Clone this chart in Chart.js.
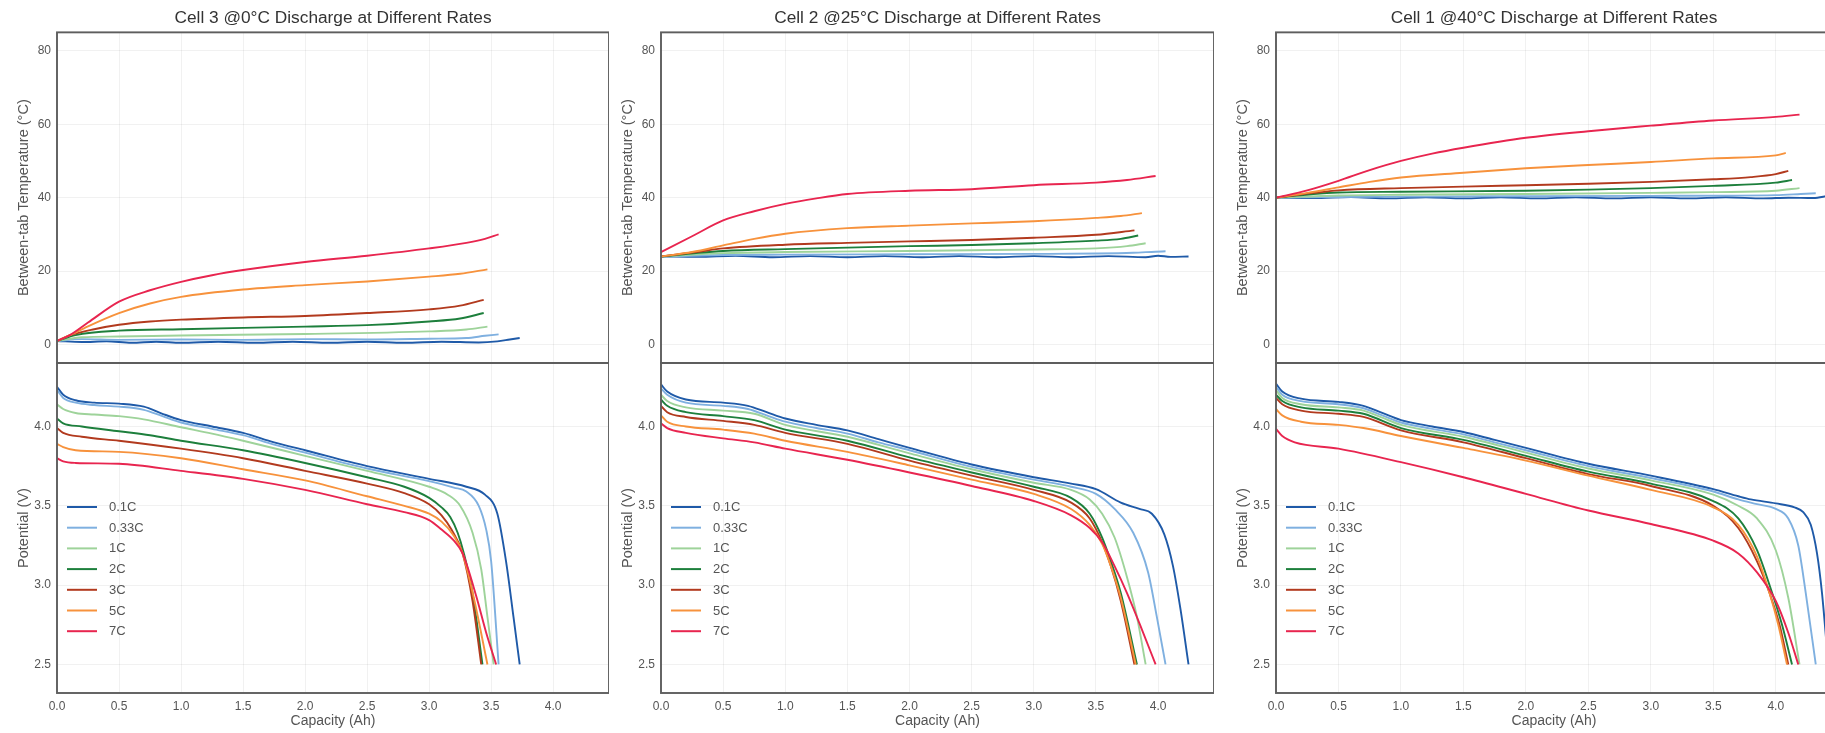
<!DOCTYPE html>
<html><head><meta charset="utf-8">
<script src="https://cdn.jsdelivr.net/npm/chart.js@4.4.1/dist/chart.umd.min.js"></script>
<style>
html,body{margin:0;padding:0;background:#fff;width:1825px;height:733px;overflow:hidden;position:relative}
canvas{position:absolute;display:block}
</style></head><body>
<script>
// ---------- labels / ticks ----------
const rates = ['0.1C','0.33C','1C','2C','3C','5C','7C'];
const colors = ['#1f5aa8','#7fb0e0','#9ed39a','#1d7f3c','#b23a1e','#f7923c','#e8254f'];
const titles = ['Cell 3 @0°C Discharge at Different Rates','Cell 2 @25°C Discharge at Different Rates','Cell 1 @40°C Discharge at Different Rates'];
const tempTicks = [0,20,40,60,80];
const voltTicks = [2.5,3.0,3.5,4.0];
const capTicks = [0,0.5,1.0,1.5,2.0,2.5,3.0,3.5,4.0];

// ---------- Cell 3 @0°C : temperature [capacity Ah, °C] ----------
const c3T_01 = [[0,1],[0.2,0.7],[0.4,0.9],[0.6,0.5],[0.8,0.8],[1.0,0.5],[1.3,0.8],[1.6,0.5],[1.9,0.8],[2.2,0.5],[2.5,0.8],[2.8,0.5],[3.1,0.8],[3.4,0.6],[3.55,0.9],[3.65,1.4],[3.73,1.8]];
const c3T_033 = [[0,1],[0.2,1.5],[0.5,1.3],[1.0,1.4],[1.5,1.3],[2.0,1.5],[2.5,1.4],[3.0,1.6],[3.3,1.8],[3.45,2.4],[3.56,2.8]];
const c3T_1 = [[0,1],[0.2,2],[0.5,2.2],[1.0,2.5],[2.0,2.9],[3.0,3.6],[3.3,4.1],[3.47,4.9]];
const c3T_2 = [[0,1],[0.15,2.6],[0.5,3.8],[1.0,4.2],[2.0,4.9],[2.5,5.3],[3.0,6.3],[3.25,7.1],[3.44,8.6]];
const c3T_3 = [[0,1],[0.1,2.5],[0.3,4.2],[0.5,5.4],[0.75,6.3],[1.0,6.8],[1.5,7.4],[2.0,7.8],[2.5,8.6],[3.0,9.6],[3.25,10.6],[3.44,12.2]];
const c3T_5 = [[0,1],[0.1,2.5],[0.25,5],[0.5,8.6],[0.75,11.2],[1.0,13],[1.5,15],[2.0,16.2],[2.5,17.2],[3.0,18.5],[3.25,19.3],[3.47,20.5]];
const c3T_7 = [[0,1],[0.1,2.5],[0.25,6],[0.5,11.7],[0.75,14.8],[1.0,17.1],[1.25,18.9],[1.5,20.3],[2.0,22.5],[2.5,24.2],[3.0,26.2],[3.3,27.7],[3.45,28.8],[3.56,30]];
// ---------- Cell 3 @0°C : potential [capacity Ah, V] ----------
const c3V_01 = [[0,4.25],[0.05,4.2],[0.15,4.165],[0.3,4.15],[0.5,4.144],[0.7,4.125],[0.85,4.08],[1.0,4.04],[1.25,4.0],[1.5,3.96],[1.75,3.9],[2.0,3.85],[2.5,3.75],[3.0,3.67],[3.3,3.62],[3.45,3.57],[3.55,3.45],[3.62,3.15],[3.68,2.8],[3.73,2.5]];
const c3V_033 = [[0,4.23],[0.05,4.18],[0.15,4.15],[0.3,4.135],[0.5,4.125],[0.7,4.105],[0.85,4.065],[1.0,4.025],[1.25,3.985],[1.5,3.945],[1.75,3.885],[2.0,3.835],[2.5,3.735],[3.0,3.655],[3.2,3.615],[3.3,3.59],[3.4,3.5],[3.46,3.35],[3.5,3.15],[3.56,2.5]];
const c3V_1 = [[0,4.14],[0.05,4.11],[0.15,4.085],[0.3,4.075],[0.5,4.065],[0.7,4.045],[1.0,3.995],[1.25,3.955],[1.5,3.91],[2.0,3.815],[2.5,3.72],[3.0,3.62],[3.15,3.57],[3.25,3.5],[3.35,3.33],[3.42,3.1],[3.47,2.8],[3.52,2.5]];
const c3V_2 = [[0,4.05],[0.05,4.02],[0.2,4.0],[0.5,3.97],[0.75,3.945],[1.0,3.91],[1.5,3.85],[2.0,3.77],[2.5,3.68],[2.8,3.62],[3.0,3.55],[3.1,3.49],[3.17,3.43],[3.23,3.33],[3.28,3.2],[3.35,2.95],[3.43,2.5]];
const c3V_3 = [[0,3.99],[0.05,3.96],[0.2,3.935],[0.5,3.91],[1.0,3.86],[1.5,3.8],[2.0,3.72],[2.5,3.64],[2.8,3.58],[3.0,3.51],[3.1,3.44],[3.18,3.35],[3.27,3.2],[3.35,2.9],[3.42,2.5]];
const c3V_5 = [[0,3.89],[0.05,3.87],[0.15,3.85],[0.5,3.84],[1.0,3.8],[1.5,3.73],[2.0,3.66],[2.5,3.56],[2.8,3.5],[3.0,3.45],[3.1,3.4],[3.2,3.31],[3.27,3.2],[3.36,2.92],[3.47,2.5]];
const c3V_7 = [[0,3.8],[0.05,3.78],[0.15,3.77],[0.5,3.765],[1.0,3.72],[1.5,3.67],[2.0,3.6],[2.5,3.51],[2.8,3.46],[3.0,3.41],[3.1,3.35],[3.2,3.28],[3.27,3.2],[3.38,2.93],[3.46,2.7],[3.54,2.5]];

// ---------- Cell 2 @25°C : temperature ----------
const c2T_01 = [[0,24],[0.3,23.9],[0.6,24.2],[0.9,23.8],[1.2,24.1],[1.5,23.8],[1.8,24.1],[2.1,23.8],[2.4,24.1],[2.7,23.8],[3.0,24.1],[3.3,23.8],[3.6,24.1],[3.9,23.8],[4.0,24.2],[4.1,23.9],[4.245,24]];
const c2T_033 = [[0,24],[0.5,24.4],[1.0,24.5],[2.0,24.6],[3.0,24.7],[3.5,24.8],[3.8,25.0],[3.98,25.3],[4.06,25.4]];
const c2T_1 = [[0,24],[0.3,24.6],[0.5,24.9],[1.0,25.2],[2.0,25.5],[3.0,25.9],[3.5,26.2],[3.75,26.8],[3.9,27.6]];
const c2T_2 = [[0,24],[0.3,25],[0.5,25.5],[1.0,26],[1.5,26.4],[2.0,26.8],[2.5,27.1],[3.0,27.6],[3.5,28.3],[3.7,28.8],[3.84,29.7]];
const c2T_3 = [[0,24],[0.3,25.3],[0.5,26.2],[1.0,27.2],[1.5,27.7],[2.0,28.1],[2.5,28.5],[3.0,29.1],[3.5,29.9],[3.81,31.1]];
const c2T_5 = [[0,24],[0.25,25.2],[0.5,27],[0.75,28.8],[1.0,30.2],[1.5,31.7],[2.0,32.4],[2.5,33],[3.0,33.6],[3.5,34.5],[3.7,35],[3.87,35.8]];
const c2T_7 = [[0,25.2],[0.25,29.5],[0.5,33.8],[0.75,36.3],[1.0,38.3],[1.25,39.8],[1.5,41],[2.0,41.9],[2.5,42.3],[3.0,43.4],[3.5,44.1],[3.75,44.8],[3.98,45.9]];
// ---------- Cell 2 @25°C : potential ----------
const c2V_01 = [[0,4.265],[0.05,4.22],[0.2,4.17],[0.5,4.15],[0.7,4.13],[0.85,4.09],[1.0,4.05],[1.25,4.01],[1.5,3.975],[1.75,3.92],[2.0,3.865],[2.5,3.76],[3.0,3.68],[3.3,3.64],[3.5,3.605],[3.7,3.52],[3.85,3.48],[3.95,3.45],[4.05,3.32],[4.12,3.12],[4.18,2.85],[4.245,2.5]];
const c2V_033 = [[0,4.24],[0.05,4.2],[0.2,4.15],[0.5,4.13],[0.7,4.11],[0.85,4.07],[1.0,4.03],[1.25,3.99],[1.5,3.955],[1.75,3.9],[2.0,3.85],[2.5,3.745],[3.0,3.665],[3.3,3.62],[3.5,3.575],[3.65,3.48],[3.8,3.33],[3.92,3.08],[3.99,2.8],[4.06,2.5]];
const c2V_1 = [[0,4.2],[0.05,4.16],[0.2,4.12],[0.5,4.1],[0.75,4.08],[1.0,4.01],[1.5,3.935],[2.0,3.83],[2.5,3.73],[3.0,3.645],[3.3,3.6],[3.45,3.54],[3.55,3.45],[3.65,3.3],[3.75,3.05],[3.83,2.8],[3.9,2.5]];
const c2V_2 = [[0,4.17],[0.05,4.13],[0.2,4.09],[0.5,4.065],[0.75,4.04],[1.0,3.98],[1.5,3.91],[2.0,3.805],[2.5,3.71],[3.0,3.62],[3.3,3.55],[3.45,3.45],[3.55,3.3],[3.62,3.15],[3.7,2.95],[3.83,2.5]];
const c2V_3 = [[0,4.13],[0.05,4.09],[0.2,4.06],[0.5,4.035],[0.75,4.01],[1.0,3.96],[1.5,3.89],[2.0,3.785],[2.5,3.69],[3.0,3.6],[3.3,3.52],[3.45,3.42],[3.55,3.27],[3.62,3.12],[3.7,2.9],[3.81,2.5]];
const c2V_5 = [[0,4.07],[0.05,4.03],[0.2,4.0],[0.5,3.98],[0.75,3.955],[1.0,3.91],[1.5,3.84],[2.0,3.755],[2.5,3.665],[3.0,3.575],[3.3,3.48],[3.45,3.38],[3.55,3.26],[3.62,3.12],[3.7,2.92],[3.82,2.5]];
const c2V_7 = [[0,4.02],[0.05,3.99],[0.2,3.96],[0.5,3.925],[0.75,3.9],[1.0,3.86],[1.5,3.79],[2.0,3.71],[2.5,3.625],[3.0,3.53],[3.3,3.44],[3.45,3.36],[3.55,3.27],[3.65,3.12],[3.75,2.95],[3.87,2.72],[3.98,2.5]];

// ---------- Cell 1 @40°C : temperature ----------
const c1T_01 = [[0,40],[0.3,39.9],[0.6,40.2],[0.9,39.8],[1.2,40.1],[1.5,39.8],[1.8,40.1],[2.1,39.8],[2.4,40.1],[2.7,39.8],[3.0,40.1],[3.3,39.8],[3.6,40.1],[3.9,39.8],[4.1,40.0],[4.3,39.9],[4.42,40.5]];
const c1T_033 = [[0,40],[0.5,40.2],[1.0,40.3],[2.0,40.4],[3.0,40.5],[4.0,40.7],[4.2,41.0],[4.32,41.2]];
const c1T_1 = [[0,40],[0.5,40.6],[1.0,40.8],[2.0,41.0],[3.0,41.3],[3.5,41.5],[4.0,41.9],[4.19,42.6]];
const c1T_2 = [[0,40],[0.3,41],[0.5,41.4],[1.0,41.6],[2.0,41.9],[2.5,42.2],[3.0,42.6],[3.5,43.2],[4.0,44.1],[4.13,44.8]];
const c1T_3 = [[0,40],[0.3,41.3],[0.5,42],[1.0,42.6],[1.5,43],[2.0,43.4],[2.5,43.8],[3.0,44.3],[3.5,45],[3.8,45.6],[4.0,46.4],[4.1,47.3]];
const c1T_5 = [[0,40],[0.25,41.3],[0.5,42.8],[0.75,44.3],[1.0,45.5],[1.5,46.8],[2.0,48],[2.5,48.9],[3.0,49.7],[3.5,50.7],[4.0,51.5],[4.08,52.2]];
const c1T_7 = [[0,40],[0.25,42],[0.5,44.6],[0.75,47.5],[1.0,50],[1.25,52],[1.5,53.6],[2.0,56.3],[2.5,58.1],[3.0,59.6],[3.5,61],[4.0,62],[4.19,62.6]];
// ---------- Cell 1 @40°C : potential ----------
const c1V_01 = [[0,4.27],[0.05,4.22],[0.2,4.175],[0.5,4.155],[0.7,4.13],[0.85,4.085],[1.0,4.04],[1.25,4.0],[1.5,3.965],[1.75,3.915],[2.0,3.865],[2.5,3.765],[3.0,3.69],[3.5,3.605],[3.7,3.56],[3.8,3.54],[4.0,3.515],[4.15,3.49],[4.22,3.46],[4.28,3.38],[4.33,3.2],[4.37,2.95],[4.42,2.5]];
const c1V_033 = [[0,4.25],[0.05,4.2],[0.2,4.16],[0.5,4.14],[0.7,4.115],[0.85,4.07],[1.0,4.025],[1.25,3.985],[1.5,3.95],[1.75,3.9],[2.0,3.85],[2.5,3.75],[3.0,3.675],[3.5,3.59],[3.7,3.54],[3.85,3.51],[4.0,3.48],[4.1,3.42],[4.18,3.25],[4.24,2.95],[4.32,2.5]];
const c1V_1 = [[0,4.23],[0.05,4.18],[0.2,4.14],[0.5,4.12],[0.7,4.1],[0.85,4.055],[1.0,4.01],[1.5,3.935],[2.0,3.835],[2.5,3.735],[3.0,3.66],[3.5,3.57],[3.7,3.5],[3.85,3.42],[4.0,3.22],[4.1,2.92],[4.19,2.5]];
const c1V_2 = [[0,4.2],[0.05,4.16],[0.2,4.12],[0.5,4.1],[0.7,4.08],[1.0,3.99],[1.5,3.915],[2.0,3.815],[2.5,3.715],[3.0,3.64],[3.5,3.53],[3.7,3.42],[3.85,3.22],[3.95,3.0],[4.05,2.75],[4.13,2.5]];
const c1V_3 = [[0,4.18],[0.05,4.14],[0.2,4.1],[0.5,4.08],[0.7,4.06],[1.0,3.975],[1.5,3.9],[2.0,3.8],[2.5,3.7],[3.0,3.625],[3.5,3.5],[3.7,3.36],[3.85,3.15],[3.95,2.95],[4.03,2.75],[4.1,2.5]];
const c1V_5 = [[0,4.11],[0.05,4.07],[0.2,4.03],[0.5,4.01],[0.7,3.99],[1.0,3.94],[1.5,3.865],[2.0,3.785],[2.5,3.69],[3.0,3.6],[3.5,3.49],[3.7,3.38],[3.85,3.18],[3.95,2.95],[4.02,2.75],[4.09,2.5]];
const c1V_7 = [[0,3.985],[0.05,3.94],[0.15,3.9],[0.5,3.86],[1.0,3.775],[1.5,3.68],[2.0,3.575],[2.5,3.47],[3.0,3.385],[3.5,3.28],[3.7,3.2],[3.85,3.08],[4.0,2.9],[4.1,2.7],[4.18,2.5]];

// ---------- assemble ----------
const cells = [
  {title: titles[0], T: [c3T_01,c3T_033,c3T_1,c3T_2,c3T_3,c3T_5,c3T_7], V: [c3V_01,c3V_033,c3V_1,c3V_2,c3V_3,c3V_5,c3V_7]},
  {title: titles[1], T: [c2T_01,c2T_033,c2T_1,c2T_2,c2T_3,c2T_5,c2T_7], V: [c2V_01,c2V_033,c2V_1,c2V_2,c2V_3,c2V_5,c2V_7]},
  {title: titles[2], T: [c1T_01,c1T_033,c1T_1,c1T_2,c1T_3,c1T_5,c1T_7], V: [c1V_01,c1V_033,c1V_1,c1V_2,c1V_3,c1V_5,c1V_7]}
];

const FONT = '"Liberation Sans", Arial, sans-serif';
const GRID = 'rgba(0,0,0,0.055)';
const TXT = '#555';
const plotLeft = [57, 661, 1276];
const plotW = [552, 553, 556];
const AXW = 57;

const framePlugin = {
  id: 'frame',
  afterDraw(chart) {
    const {ctx, chartArea: a} = chart;
    ctx.save();
    ctx.strokeStyle = '#5e5e5e';
    ctx.lineWidth = 1.9;
    ctx.strokeRect(a.left, a.top, a.right - a.left, a.bottom - a.top);
    ctx.restore();
  }
};
const legendPlugin = {
  id: 'innerLegend',
  afterDraw(chart) {
    const {ctx, chartArea: a} = chart;
    ctx.save();
    ctx.font = '13px ' + FONT;
    ctx.textBaseline = 'middle';
    chart.data.datasets.forEach((d, i) => {
      const y = a.top + 144 + i * 20.7;
      ctx.strokeStyle = d.borderColor;
      ctx.lineWidth = 2;
      ctx.beginPath(); ctx.moveTo(a.left + 10, y); ctx.lineTo(a.left + 40, y); ctx.stroke();
      ctx.fillStyle = TXT;
      ctx.fillText(d.label, a.left + 52, y + 0.5);
    });
    ctx.restore();
  }
};

function makeDatasets(series) {
  return series.map((pts, i) => ({
    label: rates[i],
    data: pts.map(p => ({x: p[0], y: p[1]})),
    borderColor: colors[i],
    backgroundColor: colors[i],
    borderWidth: 1.9,
    pointRadius: 0,
    cubicInterpolationMode: 'monotone',
    fill: false,
    order: 6 - i
  }));
}
function addCanvas(left, top, w, h) {
  const c = document.createElement('canvas');
  c.width = w; c.height = h;
  c.style.left = left + 'px'; c.style.top = top + 'px';
  c.style.width = w + 'px'; c.style.height = h + 'px';
  document.body.appendChild(c);
  return c;
}
const setTicks = arr => s => { s.ticks = arr.map(v => ({value: v})); };
const fitY = s => { s.width = AXW; s.paddingTop = 0; s.paddingBottom = 0; };
const fitX = h => s => { s.height = h; s.paddingLeft = 0; s.paddingRight = 0; };

cells.forEach((cell, col) => {
  const left = plotLeft[col] - AXW;
  const w = AXW + plotW[col];
  // ---- top: temperature ----
  const cTop = addCanvas(left, 8, w, 359);
  new Chart(cTop, {
    type: 'line',
    data: {datasets: makeDatasets(cell.T)},
    options: {
      responsive: false, animation: false, devicePixelRatio: 1,
      layout: {padding: {top: 0, bottom: 4, left: 0, right: 0}},
      plugins: {
        legend: {display: false}, tooltip: {enabled: false},
        title: {display: true, fullSize: false, text: cell.title, color: '#333', font: {size: 17.3, family: FONT, weight: 'normal'}, padding: {top: 0, bottom: 3.6}}
      },
      scales: {
        x: {type: 'linear', min: 0, max: 4.45, afterBuildTicks: setTicks(capTicks),
            ticks: {display: false}, grid: {color: GRID, drawTicks: false}, border: {display: false},
            afterFit: fitX(0)},
        y: {type: 'linear', min: -5, max: 85, afterBuildTicks: setTicks(tempTicks),
            ticks: {color: TXT, font: {size: 12, family: FONT}, padding: 6, callback: v => String(v)},
            grid: {color: GRID, drawTicks: false}, border: {display: false},
            title: {display: true, text: 'Between-tab Temperature (°C)', color: TXT, font: {size: 14.5, family: FONT}, padding: {top: 15, bottom: 0}},
            afterFit: fitY}
      }
    },
    plugins: [framePlugin]
  });
  // ---- bottom: potential ----
  const cBot = addCanvas(left, 359, w, 374);
  new Chart(cBot, {
    type: 'line',
    data: {datasets: makeDatasets(cell.V)},
    options: {
      responsive: false, animation: false, devicePixelRatio: 1,
      layout: {padding: {top: 4, bottom: 0, left: 0, right: 0}},
      plugins: {legend: {display: false}, tooltip: {enabled: false}, title: {display: false}},
      scales: {
        x: {type: 'linear', min: 0, max: 4.45, afterBuildTicks: setTicks(capTicks),
            ticks: {color: TXT, font: {size: 12, family: FONT}, padding: 6, autoSkip: false, maxRotation: 0, callback: v => v.toFixed(1)},
            grid: {color: GRID, drawTicks: false}, border: {display: false},
            title: {display: true, text: 'Capacity (Ah)', color: TXT, font: {size: 14, family: FONT}, padding: {top: 0, bottom: 3}},
            afterFit: fitX(40)},
        y: {type: 'linear', min: 2.32, max: 4.4, afterBuildTicks: setTicks(voltTicks),
            ticks: {color: TXT, font: {size: 12, family: FONT}, padding: 6, callback: v => v.toFixed(1)},
            grid: {color: GRID, drawTicks: false}, border: {display: false},
            title: {display: true, text: 'Potential (V)', color: TXT, font: {size: 14.5, family: FONT}, padding: {top: 15, bottom: 0}},
            afterFit: fitY}
      }
    },
    plugins: [framePlugin, legendPlugin]
  });
});
</script>
</body></html>
